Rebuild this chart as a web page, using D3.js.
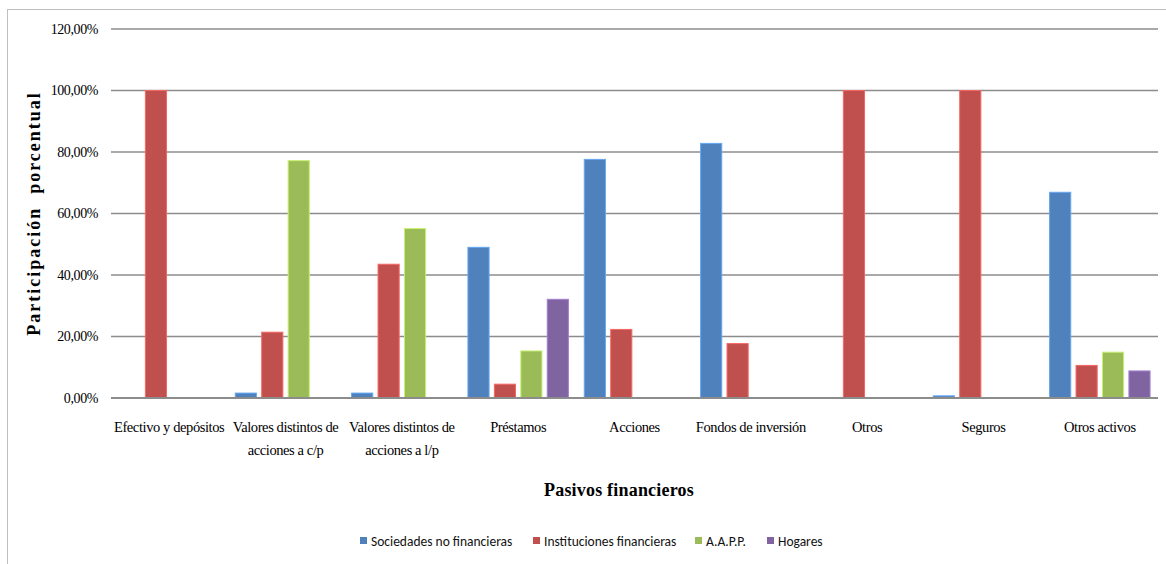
<!DOCTYPE html>
<html>
<head>
<meta charset="utf-8">
<script src="https://cdn.jsdelivr.net/npm/d3@7"></script>
<style>
  body { margin: 0; background: #fff; }
  svg { display: block; }
  .serif { font-family: "Liberation Serif", "Times New Roman", Times, serif; }
  .legend-text { font-family: Carlito, Calibri, Lato, sans-serif; }
</style>
</head>
<body>
<svg id="chart" width="1166" height="564"></svg>
<script>
// Categories of financial liabilities
const categories = [
  ["Efectivo y depósitos"],
  ["Valores distintos de", "acciones a c/p"],
  ["Valores distintos de", "acciones a l/p"],
  ["Préstamos"],
  ["Acciones"],
  ["Fondos de inversión"],
  ["Otros"],
  ["Seguros"],
  ["Otros activos"]
];

// Sectors (series)
const seriesNames = ["Sociedades no financieras", "Instituciones financieras", "A.A.P.P.", "Hogares"];
const seriesColors = ["#4F81BD", "#C0504D", "#9BBB59", "#8064A2"];

// Percentage share by sector, one value per category
const sociedades    = [0,   1.6, 1.6, 49.0, 77.6, 82.8, 0,   0.7, 66.9];
const instituciones = [100, 21.4, 43.5, 4.5, 22.3, 17.7, 100, 100, 10.6];
const aapp          = [0,   77.2, 55.1, 15.3, 0,   0,    0,   0,   14.9];
const hogares       = [0,   0,    0,    32.1, 0,   0,    0,   0,   8.8];

const yTicks = [0, 20, 40, 60, 80, 100, 120];

const seriesValues = [sociedades, instituciones, aapp, hogares];

const svg = d3.select("#chart");

// chart frame
svg.append("rect")
  .attr("x", 7.5).attr("y", 9.5)
  .attr("width", 1170).attr("height", 570)
  .attr("fill", "#fff")
  .attr("stroke", "#bfbfbf")
  .attr("stroke-width", 1);

const plot = { left: 111, right: 1158, top: 29, bottom: 398 };

const x0 = d3.scaleBand()
  .domain(d3.range(categories.length))
  .range([plot.left, plot.right])
  .paddingInner(0)
  .paddingOuter(0);

const x1 = d3.scaleBand()
  .domain(d3.range(seriesNames.length))
  .range([0, x0.bandwidth()])
  .paddingInner(0.2)
  .paddingOuter(0.3);

const y = d3.scaleLinear().domain([0, 120]).range([plot.bottom, plot.top]);

const fmt = v => d3.format(".2f")(v).replace(".", ",") + "%";

// gridlines
svg.append("g")
  .selectAll("line")
  .data(yTicks.filter(t => t > 0))
  .join("line")
  .attr("x1", plot.left).attr("x2", plot.right)
  .attr("y1", d => y(d)).attr("y2", d => y(d))
  .attr("stroke", "#8c8c8c")
  .attr("stroke-width", 1.3);

// y axis labels
const yAxis = d3.axisLeft(y).tickValues(yTicks).tickFormat(fmt).tickSize(0).tickPadding(13);
const gy = svg.append("g").attr("transform", `translate(${plot.left},0)`).call(yAxis);
gy.select(".domain").remove();
gy.attr("font-family", null);
gy.selectAll("text")
  .attr("class", "serif")
  .attr("font-size", 14)
  .attr("letter-spacing", -0.4)
  .attr("fill", "#000");

// bars
const groups = svg.append("g")
  .selectAll("g")
  .data(categories.map((c, i) => i))
  .join("g")
  .attr("transform", i => `translate(${x0(i)},0)`);

groups.selectAll("rect")
  .data(i => seriesValues.map((vals, s) => ({ s, v: vals[i] })).filter(d => d.v > 0))
  .join("rect")
  .attr("x", d => x1(d.s))
  .attr("width", x1.bandwidth())
  .attr("y", d => y(d.v))
  .attr("height", d => y(0) - y(d.v))
  .attr("fill", d => seriesColors[d.s])
  .attr("stroke", d => d3.color(seriesColors[d.s]).brighter(0.7))
  .attr("stroke-width", 1);

// baseline
svg.append("line")
  .attr("x1", plot.left).attr("x2", plot.right)
  .attr("y1", y(0)).attr("y2", y(0))
  .attr("stroke", "#8c8c8c")
  .attr("stroke-width", 2);

// category labels
const xl = svg.append("g");
categories.forEach((lines, i) => {
  const t = xl.append("text")
    .attr("class", "serif")
    .attr("x", x0(i) + x0.bandwidth() / 2)
    .attr("y", 432)
    .attr("text-anchor", "middle")
    .attr("font-size", 14.5)
    .attr("letter-spacing", -0.4)
    .attr("fill", "#000");
  lines.forEach((ln, k) => {
    t.append("tspan")
      .attr("x", x0(i) + x0.bandwidth() / 2)
      .attr("dy", k === 0 ? 0 : 23)
      .text(ln);
  });
});

// axis titles
svg.append("text")
  .attr("class", "serif")
  .attr("x", 619).attr("y", 496)
  .attr("text-anchor", "middle")
  .attr("font-weight", "bold")
  .attr("font-size", 18)
  .attr("letter-spacing", 0.2)
  .text("Pasivos financieros");

svg.append("text")
  .attr("class", "serif")
  .attr("transform", `translate(40,${(plot.top + plot.bottom) / 2}) rotate(-90)`)
  .attr("text-anchor", "middle")
  .attr("font-weight", "bold")
  .attr("font-size", 18)
  .attr("letter-spacing", 2.0)
  .attr("xml:space", "preserve")
  .style("white-space", "pre")
  .text("Participación  porcentual");

// legend
const legendX = [360, 533, 695, 767];
const legend = svg.append("g");
seriesNames.forEach((name, i) => {
  legend.append("rect")
    .attr("x", legendX[i]).attr("y", 537)
    .attr("width", 7).attr("height", 7)
    .attr("fill", seriesColors[i]);
  legend.append("text")
    .attr("class", "legend-text")
    .attr("x", legendX[i] + 11).attr("y", 546)
    .attr("font-size", 13.5)
    .attr("fill", "#111")
    .text(name);
});
</script>
</body>
</html>
